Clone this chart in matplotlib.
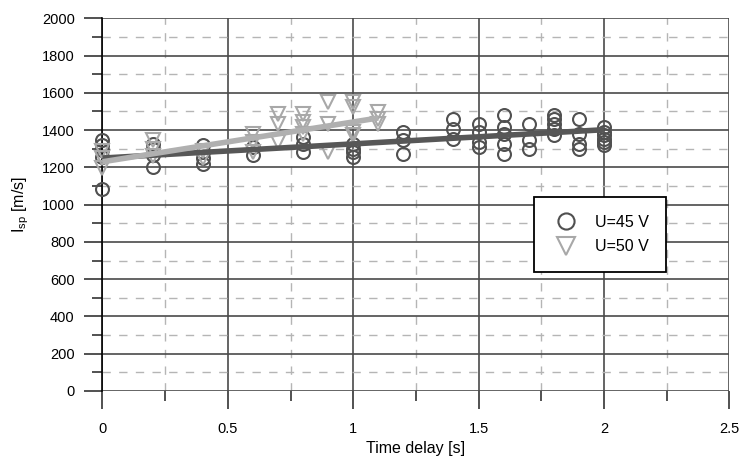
import matplotlib.pyplot as plt
from matplotlib.ticker import MultipleLocator

plt.rcParams['font.family'] = ['Liberation Sans', 'DejaVu Sans']
plt.rcParams['mathtext.default'] = 'regular'

# U=45 V measurements
t45 = [0, 0, 0, 0, 0,
       0.2, 0.2, 0.2, 0.2,
       0.4, 0.4, 0.4, 0.4,
       0.6, 0.6,
       0.8, 0.8, 0.8,
       1.0, 1.0, 1.0, 1.0,
       1.2, 1.2, 1.2,
       1.4, 1.4, 1.4,
       1.5, 1.5, 1.5, 1.5,
       1.6, 1.6, 1.6, 1.6, 1.6,
       1.7, 1.7, 1.7,
       1.8, 1.8, 1.8, 1.8, 1.8,
       1.9, 1.9, 1.9, 1.9,
       2.0, 2.0, 2.0, 2.0, 2.0, 2.0]
isp45 = [1345, 1318, 1292, 1256, 1086,
         1327, 1300, 1265, 1200,
         1318, 1280, 1250, 1220,
         1309, 1265,
         1363, 1327, 1280,
         1327, 1300, 1282, 1256,
         1390, 1345, 1274,
         1461, 1408, 1354,
         1435, 1390, 1336, 1309,
         1479, 1416, 1381, 1327, 1274,
         1435, 1345, 1300,
         1479, 1461, 1435, 1408, 1372,
         1461, 1381, 1327, 1300,
         1416, 1390, 1372, 1354, 1336, 1318]

# U=50 V measurements
t50 = [0, 0, 0,
       0.2, 0.2, 0.2,
       0.4, 0.4,
       0.6, 0.6, 0.6,
       0.7, 0.7, 0.7,
       0.8, 0.8, 0.8, 0.8,
       0.9, 0.9, 0.9,
       1.0, 1.0, 1.0, 1.0,
       1.1, 1.1, 1.1]
isp50 = [1290, 1250, 1195,
         1345, 1300, 1260,
         1290, 1250,
         1381, 1336, 1280,
         1488, 1435, 1336,
         1488, 1443, 1416, 1381,
         1550, 1435, 1282,
         1550, 1523, 1390, 1372,
         1497, 1461, 1435]

# linear trend lines
fit_t45 = [0, 2.0]
fit_isp45 = [1250, 1402]
fit_t50 = [0, 1.1]
fit_isp50 = [1230, 1465]

fig = plt.figure(figsize=(7.39, 4.62), dpi=100)
ax = fig.add_axes([0.1387, 0.1537, 0.848, 0.8067])

dark = '#505050'
light = '#a8a8a8'

ax.plot(t45, isp45, 'o', mfc='none', mec=dark, ms=9.3, mew=1.5, label='U=45 V',
        zorder=3, clip_on=False)
ax.plot(t50, isp50, 'v', mfc='none', mec=light, ms=10, mew=1.5, label='U=50 V',
        zorder=3, clip_on=False)
ax.plot(fit_t45, fit_isp45, color='#575757', lw=4, zorder=4, solid_capstyle='butt')
ax.plot(fit_t50, fit_isp50, color='#b0b0b0', lw=4, zorder=4, solid_capstyle='butt')

ax.set_xlim(0, 2.5)
ax.set_ylim(0, 2000)
ax.xaxis.set_minor_locator(MultipleLocator(0.25))
ax.yaxis.set_major_locator(MultipleLocator(200))
ax.yaxis.set_minor_locator(MultipleLocator(100))
ax.set_xticks([0, 0.5, 1, 1.5, 2, 2.5])
ax.set_xticklabels(['0', '0.5', '1', '1.5', '2', '2.5'])

ax.grid(which='major', color='#4a4a4a', lw=1.2, zorder=1)
ax.grid(which='minor', color='#b5b5b5', lw=1.0, ls=(0, (6, 6)), zorder=1)
ax.set_axisbelow(True)

for s in ['top', 'right', 'bottom']:
    ax.spines[s].set_visible(False)
ax.spines['left'].set_color('black')
ax.spines['left'].set_linewidth(1.2)
ax.spines['left'].set_zorder(2)

ax.tick_params(which='major', length=13, width=1.2, color='#333333', labelsize=10.5)
ax.tick_params(axis='x', which='major', pad=9)
ax.tick_params(axis='y', which='major', pad=7)
ax.tick_params(which='minor', length=7, width=1.2, color='#333333')

ax.set_xlabel('Time delay [s]', fontsize=11.5, labelpad=4)
ax.set_ylabel('I$_{sp}$ [m/s]', fontsize=11.5, labelpad=8)

leg = ax.legend(loc='upper left', bbox_to_anchor=(0.689, 0.5205), fontsize=11.5,
                markerscale=1.25, fancybox=False, framealpha=1, edgecolor='black',
                borderpad=1.1, handletextpad=0.9, handlelength=1.8,
                labelspacing=0.6, borderaxespad=0)
leg.get_frame().set_linewidth(1.3)
leg.set_zorder(5)

plt.savefig('out.png', dpi=100)
